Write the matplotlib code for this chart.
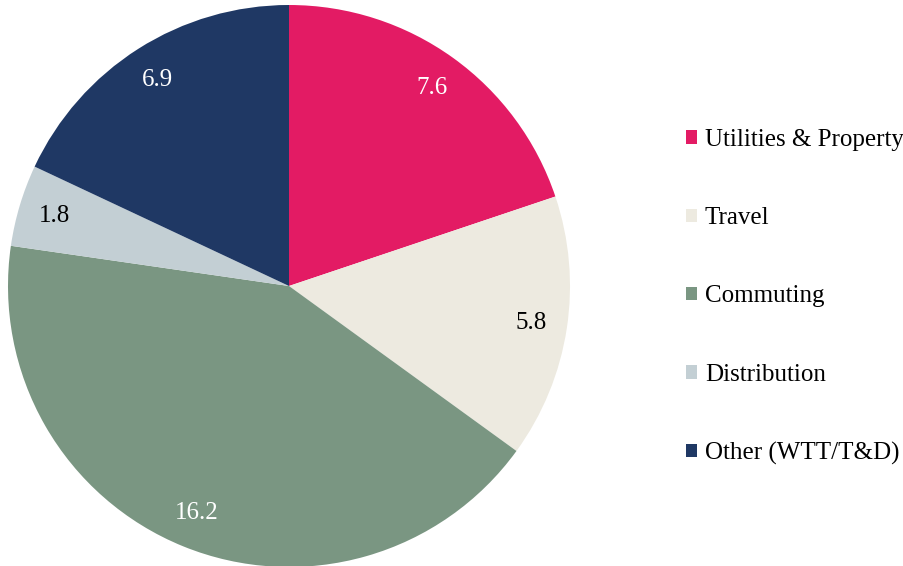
import matplotlib.pyplot as plt
from matplotlib.patches import Patch

# data
labels = ["Utilities & Property", "Travel", "Commuting", "Distribution", "Other (WTT/T&D)"]
values = [7.6, 5.8, 16.2, 1.8, 6.9]
colors = ["#E31B64", "#EDEAE0", "#7A9682", "#C3CFD4", "#1F3864"]
text_colors = ["white", "black", "white", "black", "white"]

plt.rcParams["font.family"] = ["Liberation Serif"]

fig = plt.figure(figsize=(9.04, 5.66), dpi=100)
# pie axes: centre (289, 286), radius ~281 px
ax = fig.add_axes([(289 - 281) / 904, (566 - 286 - 281) / 566, 562 / 904, 562 / 566])

total = sum(values)
wedges, texts, autotexts = ax.pie(
    values, colors=colors, startangle=90, counterclock=False,
    autopct=lambda p: f"{p * total / 100:.1f}", pctdistance=0.87,
    textprops={"fontsize": 18},
)
for t, c in zip(autotexts, text_colors):
    t.set_color(c)
ax.set_xlim(-1, 1)
ax.set_ylim(-1, 1)
ax.set_aspect("equal")
ax.axis("off")

handles = [Patch(facecolor=c, edgecolor="none") for c in colors]
fig.legend(handles, labels, loc="center left", bbox_to_anchor=(686 / 904, 1 - 297 / 566),
           frameon=False, fontsize=18, handlelength=0.45, handleheight=0.45,
           handletextpad=0.3, labelspacing=2.25, borderaxespad=0, borderpad=0)

fig.savefig("out.png", dpi=100)
